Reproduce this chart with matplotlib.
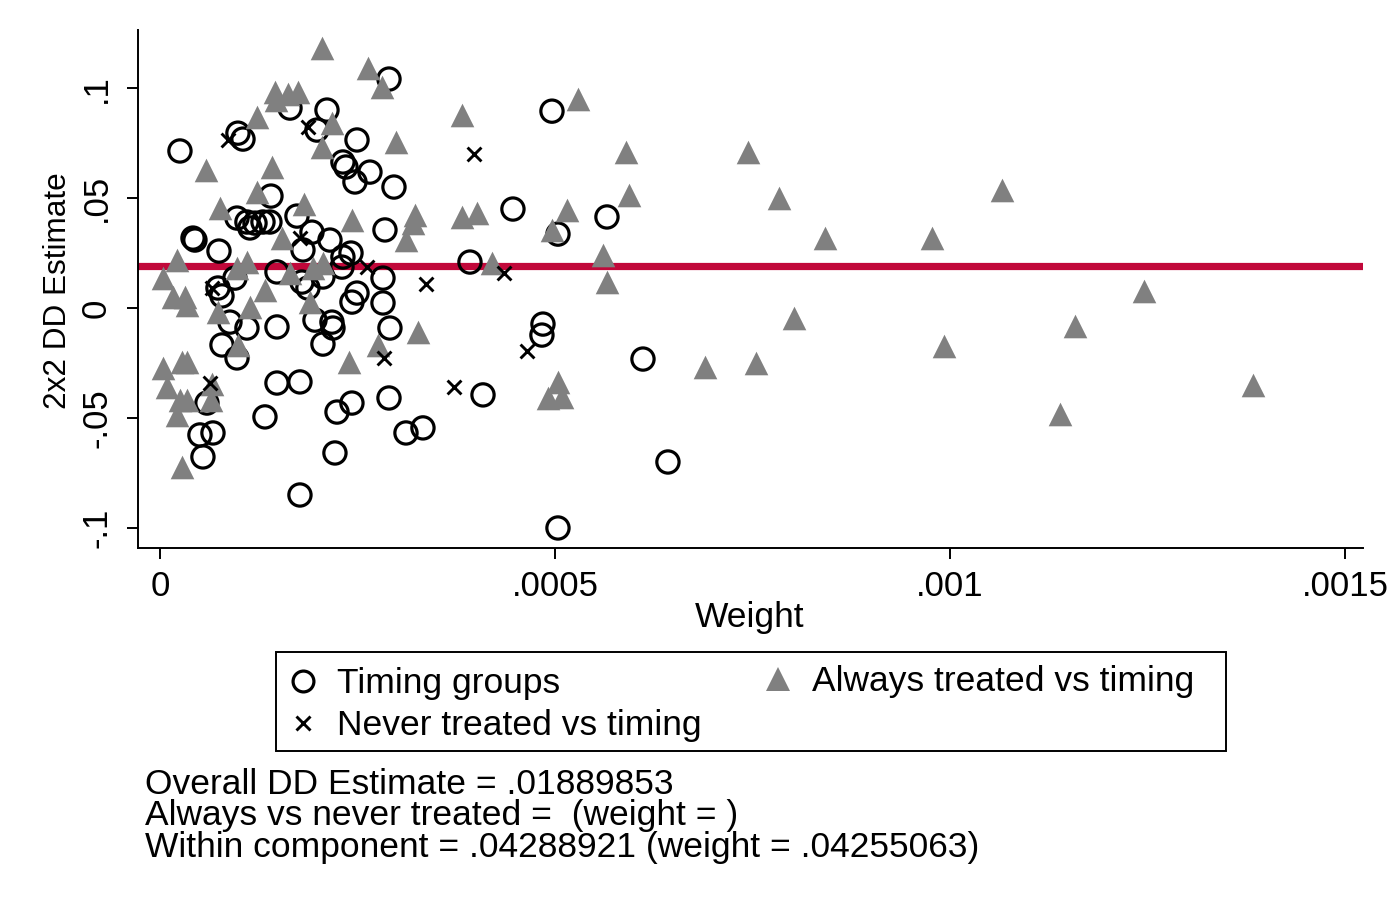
import matplotlib
matplotlib.use("Agg")
import matplotlib.pyplot as plt
from matplotlib.lines import Line2D
from matplotlib.patches import Rectangle

plt.rcParams['font.family'] = ['Liberation Sans', 'DejaVu Sans']

# ---- data ----
timing_weight = [2.53e-05, 9.87e-05, 1.051e-04, 1.646e-04, 2.114e-04, 2.899e-04, 1.987e-04, 2.494e-04,
                 2.316e-04, 2.354e-04, 2.658e-04, 2.468e-04, 2.962e-04, 1.405e-04, 4.18e-05, 4.43e-05,
                 7.47e-05, 9.75e-05, 1.101e-04, 1.203e-04, 1.304e-04, 1.392e-04, 1.139e-04, 1.734e-04,
                 1.924e-04, 2.152e-04, 1.810e-04, 2.316e-04, 2.418e-04, 2.304e-04, 2.848e-04, 2.823e-04,
                 1.481e-04, 1.797e-04, 2.063e-04, 1.873e-04, 2.494e-04, 2.430e-04, 2.823e-04, 9.49e-05,
                 7.34e-05, 7.85e-05, 8.86e-05, 1.101e-04, 1.481e-04, 1.962e-04, 2.177e-04, 2.190e-04,
                 2.911e-04, 2.063e-04, 7.85e-05, 9.75e-05, 1.481e-04, 1.772e-04, 5.95e-05, 1.329e-04,
                 5.06e-05, 6.71e-05, 5.44e-05, 2.430e-04, 2.241e-04, 2.899e-04, 3.114e-04, 3.329e-04,
                 2.215e-04, 1.772e-04, 4.089e-04, 4.848e-04, 4.835e-04, 6.114e-04, 6.430e-04, 5.038e-04,
                 3.924e-04, 4.468e-04, 5.658e-04, 5.038e-04, 4.962e-04]
timing_est = [0.0714, 0.0795, 0.0768, 0.0909, 0.0900, 0.1041, 0.0809, 0.0764,
              0.0664, 0.0641, 0.0618, 0.0573, 0.0550, 0.0509, 0.0318, 0.0309,
              0.0259, 0.0409, 0.0391, 0.0386, 0.0391, 0.0391, 0.0364, 0.0418,
              0.0345, 0.0309, 0.0264, 0.0232, 0.0250, 0.0186, 0.0355, 0.0136,
              0.0164, 0.0118, 0.0141, 0.0091, 0.0068, 0.0027, 0.0023, 0.0136,
              0.0091, 0.0055, -0.0064, -0.0091, -0.0086, -0.0055, -0.0064, -0.0091,
              -0.0091, -0.0164, -0.0168, -0.0227, -0.0341, -0.0336, -0.0432, -0.0495,
              -0.0577, -0.0568, -0.0677, -0.0432, -0.0473, -0.0409, -0.0568, -0.0545,
              -0.0659, -0.0850, -0.0395, -0.0073, -0.0123, -0.0232, -0.0700, -0.1000,
              0.0209, 0.0450, 0.0414, 0.0336, 0.0895]

never_weight = [8.61e-05, 1.873e-04, 3.975e-04, 1.772e-04, 6.58e-05, 2.620e-04,
                3.367e-04, 4.354e-04, 2.835e-04, 3.722e-04, 4.646e-04, 6.33e-05]
never_est = [0.0764, 0.0823, 0.0700, 0.0318, 0.0091, 0.0186,
             0.0109, 0.0159, -0.0227, -0.0359, -0.0195, -0.0341]

always_weight = [2.051e-04, 2.633e-04, 2.810e-04, 1.456e-04, 1.620e-04, 1.747e-04, 1.468e-04, 1.228e-04,
                 2.177e-04, 2.051e-04, 2.987e-04, 3.823e-04, 5.291e-04, 5.82e-05, 1.418e-04, 5.899e-04,
                 5.937e-04, 1.228e-04, 1.823e-04, 7.59e-05, 2.430e-04, 3.228e-04, 3.203e-04, 3.114e-04,
                 3.823e-04, 4.013e-04, 4.962e-04, 5.152e-04, 1.544e-04, 2.15e-05, 3.8e-06, 1.65e-05,
                 3.16e-05, 3.42e-05, 9.75e-05, 1.101e-04, 1.937e-04, 2.063e-04, 1.646e-04, 1.329e-04,
                 7.34e-05, 1.139e-04, 1.899e-04, 4.203e-04, 5.608e-04, 5.658e-04, 3.266e-04, 2.759e-04,
                 2.392e-04, 9.87e-05, 3.8e-06, 2.78e-05, 3.42e-05, 8.9e-06, 2.53e-05, 3.42e-05,
                 2.15e-05, 6.58e-05, 6.46e-05, 2.78e-05, 5.038e-04, 4.911e-04, 5.089e-04, 7.443e-04,
                 7.835e-04, 1.0658e-03, 8.418e-04, 9.772e-04, 1.2456e-03, 1.3835e-03, 1.1392e-03, 1.1582e-03,
                 9.924e-04, 8.025e-04, 7.544e-04, 6.899e-04]
always_est = [0.1182, 0.1091, 0.1005, 0.0982, 0.0973, 0.0982, 0.0945, 0.0868,
              0.0841, 0.0732, 0.0755, 0.0877, 0.0950, 0.0627, 0.0641, 0.0709,
              0.0514, 0.0527, 0.0473, 0.0455, 0.0400, 0.0423, 0.0386, 0.0309,
              0.0414, 0.0432, 0.0355, 0.0445, 0.0318, 0.0218, 0.0136, 0.0050,
              0.0050, 0.0014, 0.0182, 0.0209, 0.0182, 0.0205, 0.0159, 0.0082,
              -0.0018, 0.0005, 0.0027, 0.0205, 0.0241, 0.0118, -0.0109, -0.0168,
              -0.0245, -0.0168, -0.0273, -0.0245, -0.0245, -0.0359, -0.0418, -0.0418,
              -0.0486, -0.0345, -0.0418, -0.0723, -0.0336, -0.0409, -0.0405, 0.0709,
              0.0500, 0.0536, 0.0318, 0.0318, 0.0077, -0.0350, -0.0482, -0.0082,
              -0.0173, -0.0045, -0.0250, -0.0268]

overall_dd = 0.01889853

x_ticks = [0, 0.0005, 0.001, 0.0015]
x_ticklabels = ["0", ".0005", ".001", ".0015"]
y_ticks = [-0.1, -0.05, 0, 0.05, 0.1]
y_ticklabels = ["-.1", "-.05", "0", ".05", ".1"]

legend_labels = ["Timing groups", "Never treated vs timing", "Always treated vs timing"]
notes = ["Overall DD Estimate = .01889853",
         "Always vs never treated =  (weight = )",
         "Within component = .04288921 (weight = .04255063)"]

FS = 25.5

# ---- figure ----
W, H = 1400, 900
fig = plt.figure(figsize=(14, 9), dpi=100)
ax = fig.add_axes([138 / W, 1 - 548 / H, 1225 / W, 518 / H])

ax.axhline(overall_dd, color="#c1083a", lw=5.2, zorder=1)

ax.scatter(timing_weight, timing_est, s=16**2, facecolors="none", edgecolors="black",
           linewidths=2.3, marker="o", zorder=2)
ax.scatter(always_weight, always_est, s=17**2, color="#808080", marker="^",
           linewidths=0, zorder=3)
ax.scatter(never_weight, never_est, s=10**2, color="black", marker="x",
           linewidths=2.1, zorder=4)

ax.set_xlim(-2.78e-05, 1.5228e-03)
ax.set_ylim(-0.1091, 0.1264)

for s in ["top", "right"]:
    ax.spines[s].set_visible(False)
for s in ["left", "bottom"]:
    ax.spines[s].set_linewidth(1.4)

ax.set_xticks(x_ticks)
ax.set_xticklabels(x_ticklabels, fontsize=25)
ax.set_yticks(y_ticks)
ax.set_yticklabels(y_ticklabels, fontsize=25, rotation=90, va="center")
ax.tick_params(axis="both", direction="out", length=8, width=1.4, color="black")
ax.tick_params(axis="x", pad=8)
ax.tick_params(axis="y", pad=10)

fig.text(750 / W, 1 - 617 / H, "Weight", fontsize=FS, ha="center", va="center")
fig.text(58 / W, 1 - 291 / H, "2x2 DD Estimate", fontsize=22.7, ha="center", va="center",
         rotation=90)

# ---- legend box (manual, Stata-style) ----
fig.add_artist(Rectangle((276 / W, 1 - 751 / H), 950 / W, 99 / H, transform=fig.transFigure,
                         facecolor="white", edgecolor="black", linewidth=1.4))
leg_pos = [(303, 681, 337), (303, 723, 337), (778, 679, 812)]
leg_style = [
    dict(marker="o", markerfacecolor="none", markeredgecolor="black", markersize=15,
         markeredgewidth=2.3),
    dict(marker="x", color="black", markersize=10, markeredgewidth=2.1),
    dict(marker="^", color="#808080", markersize=17, markeredgewidth=0),
]
for (mx, my, tx), st, lab in zip(leg_pos, leg_style, legend_labels):
    fig.add_artist(Line2D([mx / W], [1 - my / H], ls="none", transform=fig.transFigure, **st))
    fig.text(tx / W, 1 - (my + 3) / H, lab, fontsize=FS, ha="left", va="center")

for i, line in enumerate(notes):
    fig.text(145 / W, 1 - (784 + 31.5 * i) / H, line, fontsize=FS, ha="left", va="center")

fig.savefig("out.png", dpi=100, facecolor="white")
